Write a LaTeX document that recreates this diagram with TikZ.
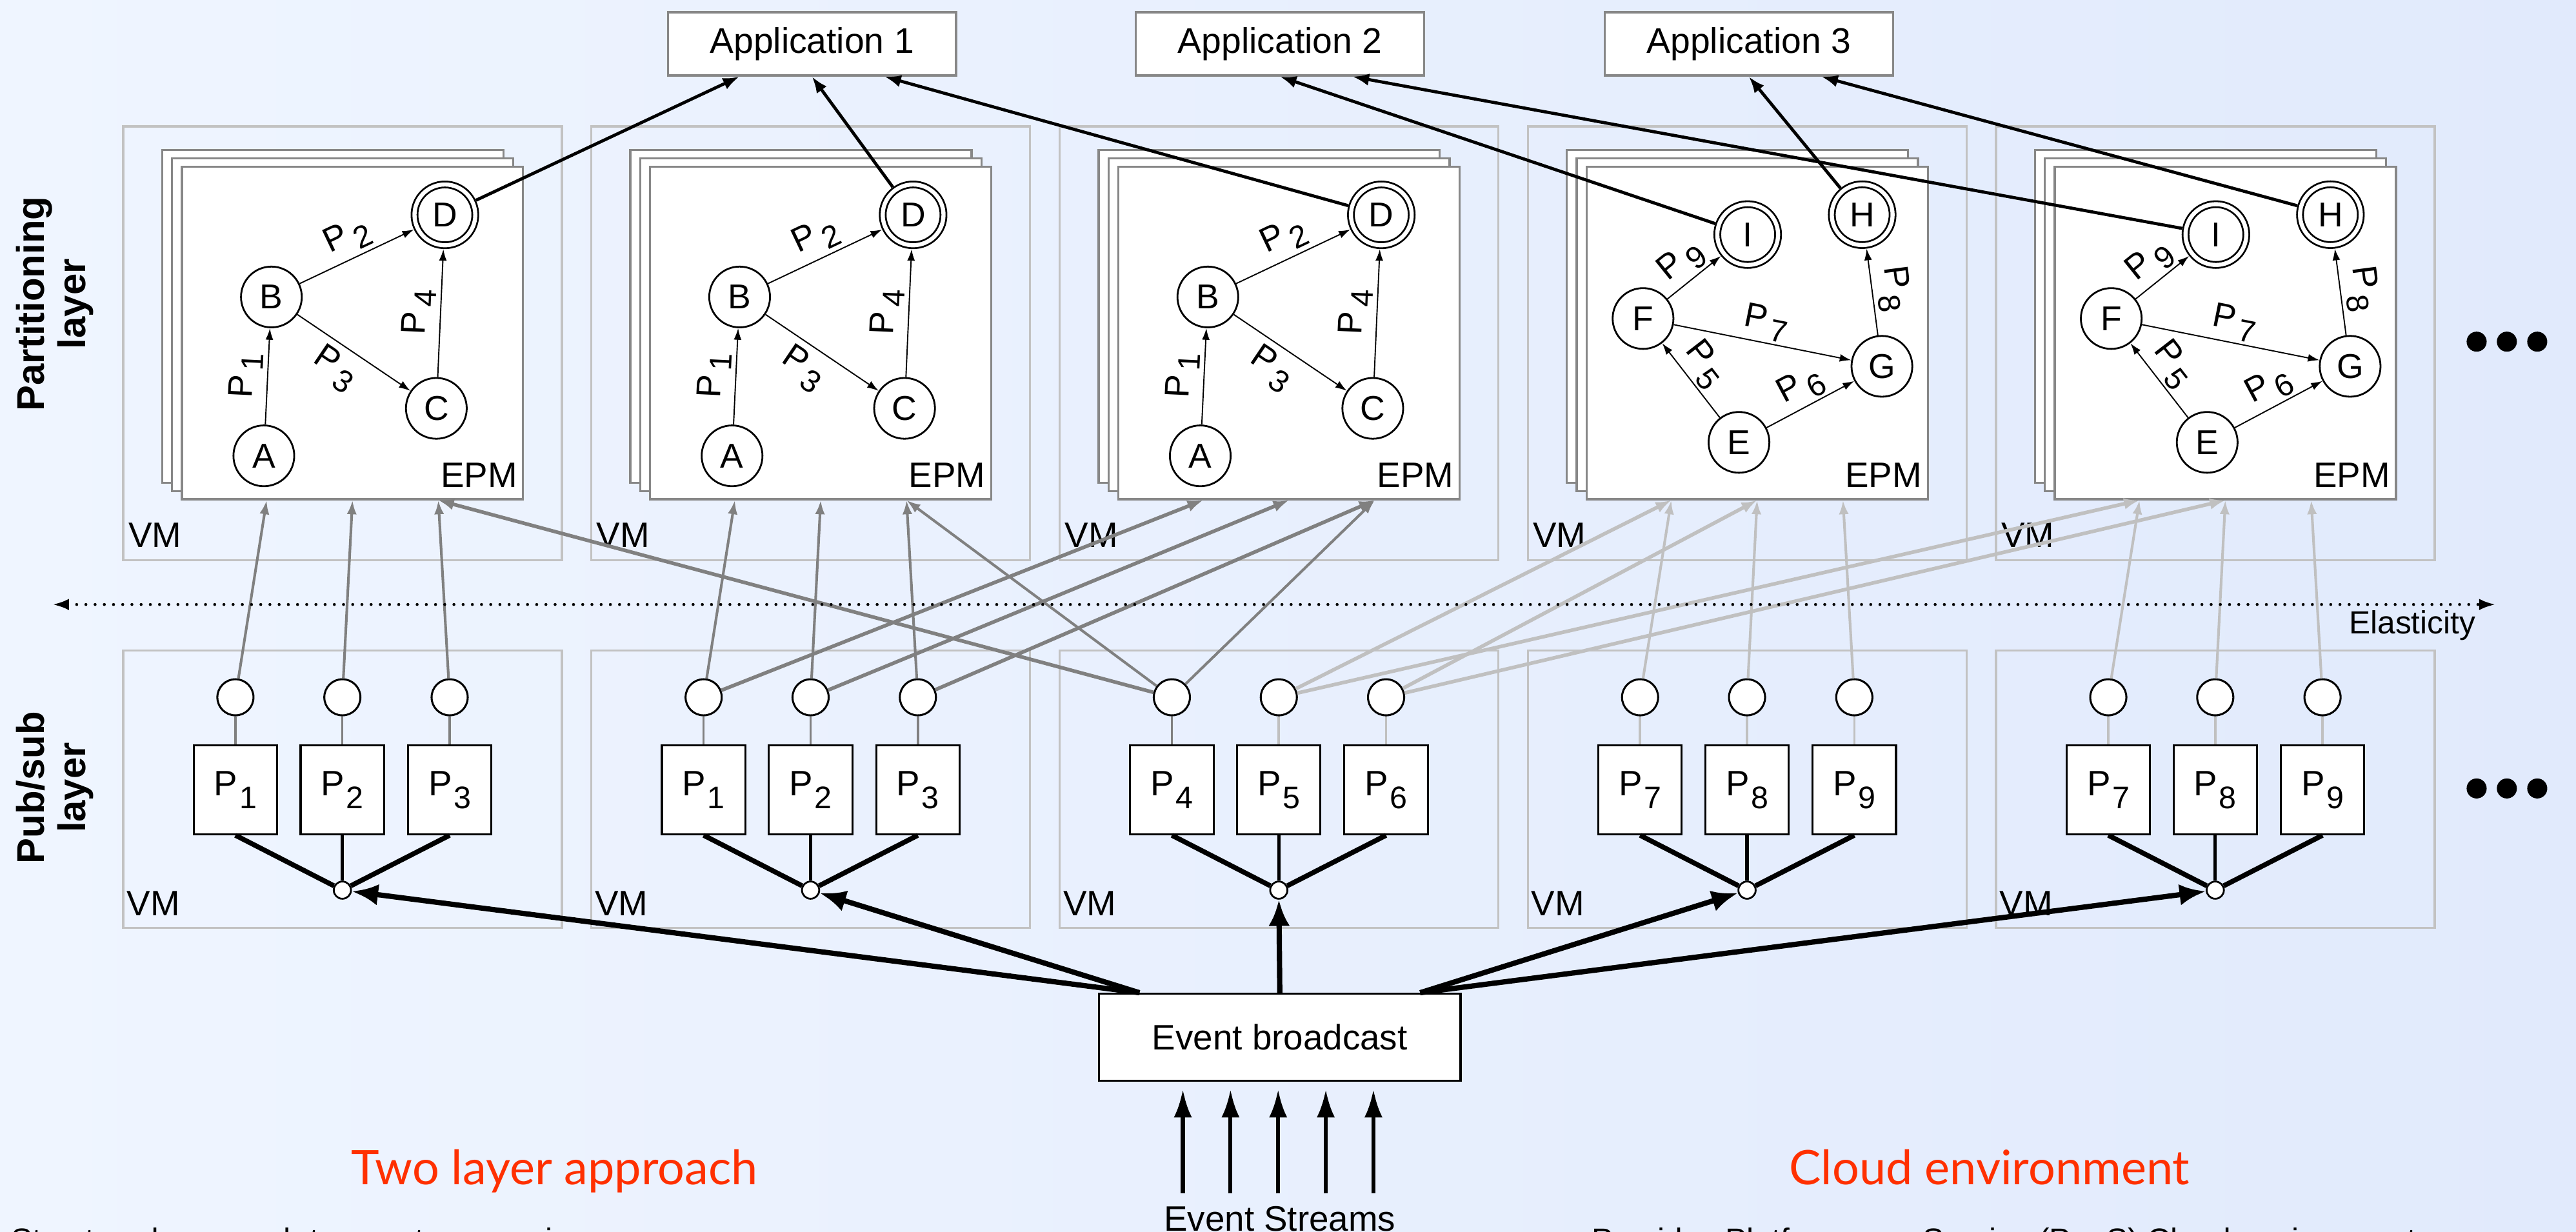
\documentclass[tikz,border=0pt]{standalone}
\usepackage{fontspec}
\setmainfont{Liberation Sans}
\newfontfamily\headfont{Lato}
\usetikzlibrary{arrows.meta,calc}

\definecolor{bgleft}{RGB}{239,245,255}
\definecolor{bgright}{RGB}{225,234,252}
\definecolor{vmline}{RGB}{194,194,194}
\definecolor{sheetline}{RGB}{135,135,135}
\definecolor{linkdark}{RGB}{128,128,128}
\definecolor{linklight}{RGB}{192,192,192}
\definecolor{headred}{RGB}{255,48,0}

% P with a lowered index, as used on edges and on the pub/sub boxes
\newcommand{\Plab}[1]{P\hspace{3pt}\raisebox{-6pt}{\fontsize{19}{19}\selectfont #1}}
\newcommand{\Pbox}[1]{P\hspace{1pt}\raisebox{-8pt}{\fontsize{19}{19}\selectfont #1}}

\tikzset{
  txt/.style={inner sep=0pt, font=\fontsize{21.5}{24}\selectfont},
  vmbox/.style={draw=vmline, line width=1.3pt, inner sep=0pt},
  sheet/.style={draw=sheetline, fill=white, line width=1.3pt, minimum width=207.7pt, minimum height=202.5pt, inner sep=0pt},
  stnode/.style={circle, draw, fill=white, line width=1.1pt, minimum size=37pt, inner sep=0pt, font=\fontsize{21}{21}\selectfont},
  accnode/.style={circle, draw, double=white, double distance=2.5pt, line width=1.1pt, minimum size=37pt, inner sep=0pt, outer sep=2.4pt, font=\fontsize{21}{21}\selectfont},
  flow/.style={line width=0.75pt, -{Latex[length=7pt,width=4.7pt]}},
  plab/.style={sloped, inner sep=1.5pt, font=\fontsize{21}{21}\selectfont},
  topic/.style={circle, draw, fill=white, line width=1.2pt, minimum size=22pt, inner sep=0pt},
  pbox/.style={draw, fill=white, line width=1.2pt, minimum width=50.8pt, minimum height=54pt, inner sep=0pt, font=\fontsize{21.5}{21.5}\selectfont},
  junction/.style={circle, draw, fill=white, line width=1.1pt, minimum size=10.5pt, inner sep=0pt},
  stemline/.style={line width=1.4pt},
  fanline/.style={line width=3pt},
  fanmid/.style={line width=2pt},
  feed/.style={line width=1.6pt, -{Latex[length=8.5pt,width=6pt]}},
  feedcross/.style={line width=2.2pt, -{Latex[length=9.5pt,width=7pt]}},
  appflow/.style={line width=1.9pt, -{Latex[length=10pt,width=7.5pt]}},
  appbox/.style={draw=sheetline, fill=white, line width=1.3pt, minimum width=175.5pt, minimum height=38.5pt, inner sep=0pt, font=\fontsize{21.7}{24}\selectfont},
  bcast/.style={line width=3.2pt, -{Latex[length=16pt,width=13pt]}},
  stream/.style={line width=2.4pt, -{Latex[length=17pt,width=11pt]}},
  layerlab/.style={rotate=90, align=center, inner sep=0pt, font=\fontsize{23.5}{25}\selectfont\bfseries},
  headline/.style={anchor=base, inner sep=0pt, text=headred, font=\headfont\fontsize{29}{30}\selectfont},
}

\begin{document}
\begin{tikzpicture}[x=1pt, y=-1pt]
\clip (0,0) rectangle (1568,750);
\shade[left color=bgleft, right color=bgright] (0,0) rectangle (1568,750);

% layer titles
\node[layerlab] (lay1) at (33.5,185) {Partitioning\\layer};
\node[layerlab] (lay2) at (33.5,479.5) {Pub/sub\\layer};

% applications
\node[appbox] (app1) at (494.25,26.75) {Application 1};
\node[appbox] (app2) at (779.15,26.75) {Application 2};
\node[appbox] (app3) at (1064.5,26.75) {Application 3};
\foreach \a in {1,2,3}{
  \coordinate (app\a a) at ($(app\a.south west)!0.25!(app\a.south east)$);
  \coordinate (app\a b) at ($(app\a.south west)!0.5!(app\a.south east)$);
  \coordinate (app\a c) at ($(app\a.south west)!0.75!(app\a.south east)$);
}

% partitioning layer: one VM with a stack of EPM sheets each
\foreach \i in {1,...,5}{
  \pgfmathsetmacro\L{75+285*(\i-1)}
  \node[vmbox, minimum width=267pt, minimum height=264pt] (vm\i) at (\L+133.5,209) {};
  \node[txt, anchor=base west] (vmlab\i) at (\L+3,333) {VM};
  \node[sheet] (epmback\i) at (\L+127.55,192.65) {};
  \node[sheet] (epmmid\i) at (\L+133.55,197.65) {};
  \node[sheet] (epm\i) at (\L+139.55,202.65) {};
  \node[txt, anchor=base east] (epmlab\i) at (\L+240,296.5) {EPM};
  \coordinate (qa\i) at ($(epm\i.south west)!0.25!(epm\i.south east)$);
  \coordinate (qb\i) at ($(epm\i.south west)!0.5!(epm\i.south east)$);
  \coordinate (qc\i) at ($(epm\i.south west)!0.75!(epm\i.south east)$);
  \ifnum\i<4
    \node[stnode] (A\i) at (\L+85.6,277.5) {A};
    \node[stnode] (B\i) at (\L+90.2,180.8) {B};
    \node[stnode] (C\i) at (\L+190.6,248.6) {C};
    \node[accnode] (D\i) at (\L+195.8,130.8) {D};
    \draw[flow] (A\i) -- node[plab, above, inner sep=2.5pt] {\Plab{1}} (B\i);
    \draw[flow] (B\i) -- node[plab, above, inner sep=2.5pt] {\Plab{2}} (D\i);
    \draw[flow] (B\i) -- node[plab, below, inner sep=4pt, pos=0.45] {\Plab{3}} (C\i);
    \draw[flow] (C\i) -- node[plab, above, inner sep=2.5pt] {\Plab{4}} (D\i);
  \else
    \node[stnode] (E\i) at (\L+128.5,269.3) {E};
    \node[stnode] (F\i) at (\L+70.1,193.9) {F};
    \node[stnode] (G\i) at (\L+215.5,223) {G};
    \node[accnode] (H\i) at (\L+203.5,130.7) {H};
    \node[accnode] (I\i) at (\L+133.8,142.8) {I};
    \draw[flow] (E\i) -- node[plab, above, pos=0.55] {\Plab{5}} (F\i);
    \draw[flow] (E\i) -- node[plab, above] {\Plab{6}} (G\i);
    \draw[flow] (F\i) -- node[plab, above] {\Plab{7}} (G\i);
    \draw[flow] (F\i) -- node[plab, above] {\Plab{9}} (I\i);
    \draw[flow] (G\i) -- node[plab, above, inner sep=2.5pt] {\Plab{8}} (H\i);
  \fi
}

% pub/sub layer: topics, partition publishers and the fan-in point
\foreach \i in {1,...,5}{
  \pgfmathsetmacro\L{75+285*(\i-1)}
  \pgfmathtruncatemacro\k{\i<3 ? 0 : (\i<4 ? 3 : 6)}
  \node[vmbox, minimum width=267pt, minimum height=169pt] (ps\i) at (\L+133.5,480.5) {};
  \node[txt, anchor=base west] (pslab\i) at (\L+2,557.3) {VM};
  \foreach \n/\dx in {1/68.3,2/133.4,3/198.7}{
    \pgfmathtruncatemacro\m{\k+\n}
    \node[topic] (t\i\n) at (\L+\dx,424.5) {};
    \node[pbox] (p\i\n) at (\L+\dx,480.9) {\Pbox{\m}};
  }
  \node[junction] (j\i) at (\L+133.4,541.9) {};
  \draw[fanline] (p\i1.south) -- (j\i);
  \draw[fanmid] (p\i2.south) -- (j\i);
  \draw[fanline] (p\i3.south) -- (j\i);
}

\foreach \tp/\c in {11/linkdark,12/linkdark,13/linkdark,21/linkdark,22/linkdark,23/linkdark,
  31/linkdark,32/linklight,33/linklight,41/linklight,42/linklight,43/linklight,
  51/linklight,52/linklight,53/linklight}
  \draw[stemline, draw=\c] (t\tp) -- (p\tp);

% subscriptions from topics to EPMs
\foreach \s/\e in {11/qa1,12/qb1,13/qc1,21/qa2,22/qb2,23/qc2,31/qc2,31/qc3}
  \draw[feed, draw=linkdark] (t\s) -- (\e);
\foreach \s/\e in {31/qc1,21/qa3,22/qb3,23/qc3}
  \draw[feedcross, draw=linkdark] (t\s) -- (\e);
\foreach \s/\e in {41/qa4,42/qb4,43/qc4,51/qa5,52/qb5,53/qc5}
  \draw[feed, draw=linklight] (t\s) -- (\e);
\foreach \s/\e in {32/qa4,33/qb4,32/qa5,33/qb5}
  \draw[feedcross, draw=linklight] (t\s) -- (\e);

% elasticity axis
\coordinate (elL) at (32,368);
\coordinate (elR) at (1519,368);
\draw[line width=1.8pt, line cap=round, dash pattern=on 0pt off 5.6pt,
  {Latex[length=10pt,width=7pt]}-{Latex[length=10pt,width=7pt]}] (elL) -- (elR);
\node[inner sep=0pt, anchor=base east, font=\fontsize{19.5}{20}\selectfont] (elas) at (1507,386) {Elasticity};

% more VMs
\foreach \yy in {208,480}
  \foreach \xx in {1507.5,1525.9,1544.4}
    \fill (\xx,\yy) circle (6.1);

% event broadcast
\node[draw, fill=white, line width=1.3pt, minimum width=220pt, minimum height=53pt, txt] (eb) at (779,631.5) {Event broadcast};
\coordinate (ebl) at ($(eb.north west)!0.114!(eb.north east)$);
\coordinate (ebr) at ($(eb.north west)!0.886!(eb.north east)$);
\draw[bcast] (ebl) -- (j1);
\draw[bcast] (ebl) -- (j2);
\draw[bcast] (eb.north) -- (j3);
\draw[bcast] (ebr) -- (j4);
\draw[bcast] (ebr) -- (j5);

\foreach \n/\xx in {1/720,2/749,3/778,4/807,5/836}{
  \coordinate (es\n) at (\xx,726.5);
  \draw[stream, shorten >=4.6pt] (es\n) -- (es\n |- eb.south);
}
\node[txt, anchor=base] (estr) at (779,749.4) {Event Streams};

% results to applications
\draw[appflow] (D1) -- (app1a);
\draw[appflow] (D2) -- (app1b);
\draw[appflow] (D3) -- (app1c);
\draw[appflow] (I4) -- (app2b);
\draw[appflow] (I5) -- (app2c);
\draw[appflow] (H4) -- (app3b);
\draw[appflow] (H5) -- (app3c);

% headings
\node[headline] (h1) at (337.5,721.2) {Two layer approach};
\node[headline] (h2) at (1211,721.2) {Cloud environment};
\node[inner sep=0pt, anchor=base west, font=\fontsize{19.5}{20}\selectfont] (n1) at (6.5,761.5) {Structured approach to event processing};
\node[inner sep=0pt, anchor=base west, font=\fontsize{19.5}{20}\selectfont] (n2) at (968.8,761.5) {Provides Platform as a Service (PaaS) Cloud environment};
\end{tikzpicture}
\end{document}
